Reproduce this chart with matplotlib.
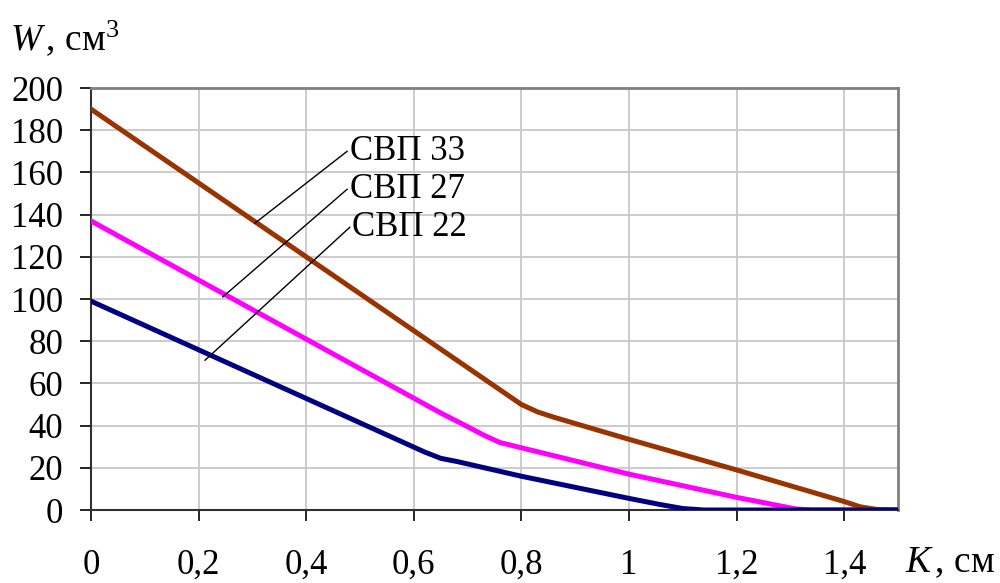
import numpy as np
import matplotlib
matplotlib.use('Agg')
import matplotlib.pyplot as plt

# -- data
x33 = [0, 0.78, 0.8, 0.83, 0.86, 1.0, 1.2, 1.4, 1.43, 1.46, 1.5]
w33 = [190, 53.5, 50, 46.5, 44, 33.5, 19, 4, 1.5, 0.3, 0]

x27 = [0, 0.65, 0.7, 0.73, 0.76, 0.8, 1.0, 1.2, 1.28, 1.31, 1.34, 1.5]
w27 = [137, 46, 39.5, 35.5, 32, 29.5, 17, 6, 2, 0.5, 0, 0]

x22 = [0, 0.62, 0.65, 0.68, 0.8, 1.0, 1.06, 1.1, 1.14, 1.5]
w22 = [99, 27.5, 24.5, 23, 16, 5.5, 2.5, 0.7, 0, 0]

labels = ["СВП 33", "СВП 27", "СВП 22"]
label_from = [(0.305, 136), (0.245, 101), (0.212, 71)]
label_to = [(0.476, 170), (0.476, 152), (0.481, 134)]

xticks = [0, 0.2, 0.4, 0.6, 0.8, 1.0, 1.2, 1.4]
xticklabels = ["0", "0,2", "0,4", "0,6", "0,8", "1", "1,2", "1,4"]
yticks = np.arange(0, 201, 20)

plt.rcParams.update({'font.family': 'Liberation Serif', 'font.size': 25,
                     'mathtext.fontset': 'custom',
                     'mathtext.rm': 'Liberation Serif',
                     'mathtext.it': 'Liberation Serif:italic'})

fig = plt.figure(figsize=(10, 5.83), dpi=100)
ax = fig.add_axes([0.091, 0.1252, 0.807, 0.7238])

ax.plot(x33, w33, color='#993300', lw=3.6, solid_joinstyle='round', zorder=3)
ax.plot(x27, w27, color='#ff00ff', lw=3.6, solid_joinstyle='round', zorder=3)
ax.plot(x22, w22, color='#000080', lw=3.6, solid_joinstyle='round', zorder=3)

for lab, p0, p1 in zip(labels, label_from, label_to):
    ax.plot([p0[0], p1[0]], [p0[1], p1[1]], color='black', lw=1.0, zorder=4)
    ax.text(p1[0] + 0.005, p1[1], lab, va='center', ha='left', fontsize=25, zorder=5)

ax.set_xlim(0, 1.5)
ax.set_ylim(0, 200)
ax.set_xticks(xticks)
ax.set_xticklabels(xticklabels)
ax.set_yticks(yticks)
ax.grid(color='#c8c8c8', lw=1.3)
ax.set_axisbelow(True)

for s in ['top', 'right']:
    ax.spines[s].set_color('#808080')
    ax.spines[s].set_linewidth(2)
for s in ['left', 'bottom']:
    ax.spines[s].set_color('#303030')
    ax.spines[s].set_linewidth(1.5)
ax.tick_params(axis='y', direction='out', length=8, width=1.2, pad=12)
ax.tick_params(axis='x', direction='out', length=8, width=1.2, pad=20)

fig.text(0.905, 0.018, r"$K\,$, см", ha='left', va='baseline', fontsize=27)
fig.text(0.01, 0.914, r"$W\,$, см$^3$", ha='left', va='baseline', fontsize=27)

plt.savefig("out.png", dpi=100)
